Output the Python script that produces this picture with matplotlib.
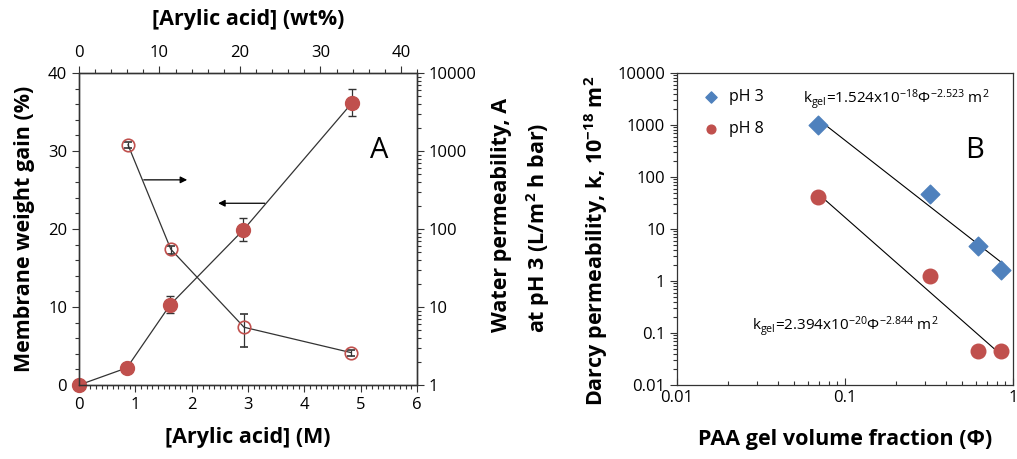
import numpy as np
import matplotlib.pyplot as plt
from matplotlib.ticker import MultipleLocator, LogLocator, NullFormatter, FixedLocator

plt.rcParams['font.family'] = ['Open Sans', 'DejaVu Sans']
plt.rcParams['mathtext.default'] = 'regular'

RED = '#C0504D'
BLUE = '#4F81BD'

# panel A: weight gain vs acrylic acid concentration
aa_M = [0, 0.85, 1.62, 2.92, 4.85]
gain = [0, 2.2, 10.3, 19.9, 36.2]
gain_err = [0, 0, 1.1, 1.5, 1.7]

# panel A: water permeability (right axis, log)
perm_M = [0.87, 1.63, 2.93, 4.83]
perm = [1200, 55, 5.5, 2.6]
perm_lo = [1100, 48, 3.1, 2.35]
perm_hi = [1300, 60, 8.1, 2.85]

# panel B: Darcy permeability vs gel volume fraction
phi3 = [0.0686, 0.322, 0.62, 0.853]
k3 = [1015, 47, 4.8, 1.63]
phi8 = [0.0686, 0.322, 0.62, 0.853]
k8 = [41, 1.26, 0.045, 0.045]
fit3 = (1.524, -2.523)
fit8 = (0.02394, -2.844)

fig = plt.figure(figsize=(10.17, 4.59), dpi=100)
W, H = 1017, 459
TS = 12

# ---------- panel A ----------
ax = fig.add_axes([79 / W, 1 - 385 / H, 338 / W, 312 / H])
ax.errorbar(aa_M, gain, yerr=gain_err, color='#333333', lw=0.9, marker='o', ms=10,
            mfc=RED, mec=RED, ecolor='#333333', elinewidth=0.9, capsize=3, clip_on=False, zorder=3)
ax.set_xlim(0, 6)
ax.set_ylim(0, 40)
ax.xaxis.set_major_locator(MultipleLocator(1))
ax.xaxis.set_minor_locator(MultipleLocator(0.1))
ax.yaxis.set_major_locator(MultipleLocator(10))
ax.yaxis.set_minor_locator(MultipleLocator(2))
ax.tick_params(labelsize=TS, length=5, width=0.8, color='#333333')
ax.tick_params(which='minor', length=3, width=0.8, color='#333333')

axr = ax.twinx()
axr.set_yscale('log')
axr.set_ylim(1, 10000)
yerr = [np.array(perm) - np.array(perm_lo), np.array(perm_hi) - np.array(perm)]
axr.errorbar(perm_M, perm, yerr=yerr, color='#333333', lw=0.9, marker='o', ms=9,
             mfc='none', mec=RED, mew=1.2, ecolor='#333333', elinewidth=0.9, capsize=3, zorder=3)
axr.set_yticks([1, 10, 100, 1000, 10000])
axr.set_yticklabels(['1', '10', '100', '1000', '10000'])
axr.yaxis.set_minor_locator(LogLocator(base=10, subs=np.arange(2, 10)))
axr.yaxis.set_minor_formatter(NullFormatter())
axr.tick_params(labelsize=TS, length=5, width=0.8, color='#333333')
axr.tick_params(which='minor', length=3, width=0.8, color='#333333')

axt = ax.twiny()
axt.set_xlim(0, 42)
axt.xaxis.set_major_locator(FixedLocator([0, 10, 20, 30, 40]))
axt.xaxis.set_minor_locator(MultipleLocator(2))
axt.tick_params(labelsize=TS, length=5, width=0.8, color='#333333')
axt.tick_params(which='minor', length=3, width=0.8, color='#333333')

for a in (ax, axr, axt):
    for s in a.spines.values():
        s.set_color('#333333')
        s.set_linewidth(0.9)

ax.text(5.33, 30.0, 'A', fontsize=21, ha='center', va='center')
arrow = dict(arrowstyle='-|>', color='black', lw=0.9, shrinkA=0, shrinkB=0, mutation_scale=10)
ax.annotate('', xy=(1.92, 26.3), xytext=(1.15, 26.3), arrowprops=arrow)
ax.annotate('', xy=(2.47, 23.3), xytext=(3.30, 23.3), arrowprops=arrow)

fig.text(25 / W, 1 - 229 / H, 'Membrane weight gain (%)', rotation=90, ha='center', va='center',
         fontsize=15.5, fontweight='bold')
fig.text(248 / W, 1 - 438 / H, '[Arylic acid] (M)', ha='center', va='center', fontsize=15.5, fontweight='bold')
fig.text(248 / W, 1 - 20 / H, '[Arylic acid] (wt%)', ha='center', va='center', fontsize=15.5, fontweight='bold')
fig.text(501 / W, 1 - 215 / H, 'Water permeability, A', rotation=90, ha='center', va='center',
         fontsize=15.5, fontweight='bold')
fig.text(538 / W, 1 - 228 / H, 'at pH 3 (L/m$^2$ h bar)', rotation=90, ha='center', va='center',
         fontsize=15.5, fontweight='bold')

# ---------- panel B ----------
bx = fig.add_axes([677 / W, 1 - 385 / H, 336 / W, 312 / H])
bx.set_xscale('log')
bx.set_yscale('log')
bx.set_xlim(0.01, 1)
bx.set_ylim(0.01, 10000)
bx.scatter(phi3, k3, marker='D', s=90, color=BLUE, zorder=3, label='pH 3')
bx.scatter(phi8, k8, marker='o', s=110, color=RED, zorder=3, label='pH 8')
xf = np.array([0.0686, 0.853])
bx.plot(xf, fit3[0] * xf ** fit3[1], color='black', lw=0.8)
bx.plot(xf, fit8[0] * xf ** fit8[1], color='black', lw=0.8)

bx.set_xticks([0.01, 0.1, 1])
bx.set_xticklabels(['0.01', '0.1', '1'])
bx.set_yticks([0.01, 0.1, 1, 10, 100, 1000, 10000])
bx.set_yticklabels(['0.01', '0.1', '1', '10', '100', '1000', '10000'])
for axis in (bx.xaxis, bx.yaxis):
    axis.set_minor_locator(LogLocator(base=10, subs=np.arange(2, 10)))
    axis.set_minor_formatter(NullFormatter())
bx.tick_params(labelsize=TS, length=5, width=0.8, color='#333333')
bx.tick_params(which='minor', length=3, width=0.8, color='#333333')
bx.tick_params(axis='x', which='both', direction='in')
for s in bx.spines.values():
    s.set_color('#333333')
    s.set_linewidth(0.9)

leg = bx.legend(loc='upper left', bbox_to_anchor=(0.035, 0.97), frameon=False, fontsize=11.5,
                handletextpad=0.1, labelspacing=1.0, markerscale=0.6, borderaxespad=0)
bx.text(0.887, 0.753, 'B', transform=bx.transAxes, fontsize=21, ha='center', va='center')
bx.text(0.652, 0.913, r'k$_{gel}$=1.524x10$^{-18}$Φ$^{-2.523}$ m$^2$', transform=bx.transAxes,
        fontsize=11, ha='center', va='center')
bx.text(0.50, 0.186, r'k$_{gel}$=2.394x10$^{-20}$Φ$^{-2.844}$ m$^2$', transform=bx.transAxes,
        fontsize=11, ha='center', va='center')

fig.text(596 / W, 1 - 241 / H, 'Darcy permeability, k, 10$^{-18}$ m$^2$', rotation=90, ha='center', va='center',
         fontsize=15.5, fontweight='bold')
fig.text(845 / W, 1 - 440 / H, 'PAA gel volume fraction (Φ)', ha='center', va='center',
         fontsize=15.5, fontweight='bold')

fig.savefig('out.png', dpi=100, facecolor='white')
